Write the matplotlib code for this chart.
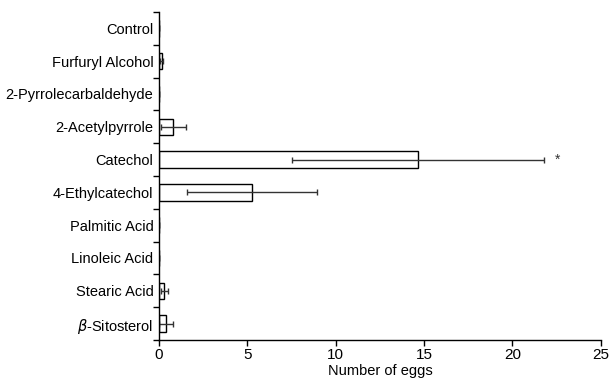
import numpy as np
import matplotlib.pyplot as plt
from matplotlib.ticker import FixedLocator

plt.rcParams["font.family"] = ["Liberation Sans", "DejaVu Sans"]

compounds = ["Control", "Furfuryl Alcohol", "2-Pyrrolecarbaldehyde", "2-Acetylpyrrole",
             "Catechol", "4-Ethylcatechol", "Palmitic Acid", "Linoleic Acid",
             "Stearic Acid", r"$\beta$-Sitosterol"]
eggs_mean = [0.0, 0.15, 0.0, 0.8, 14.65, 5.27, 0.0, 0.0, 0.3, 0.4]
eggs_sem = [0.0, 0.1, 0.0, 0.7, 7.15, 3.68, 0.0, 0.0, 0.2, 0.4]
significant = ["Catechol"]


def main():
    fig = plt.figure(figsize=(6.1, 3.81), dpi=100)
    ax = fig.add_axes([0.2607, 0.1076, 0.7243, 0.861])

    y = np.arange(len(compounds))
    ax.barh(y, eggs_mean, height=0.5, color="white", edgecolor="black", linewidth=1.0)
    ax.errorbar(eggs_mean, y, xerr=eggs_sem, fmt="none", ecolor="#333333",
                elinewidth=1.0, capsize=2.5, capthick=1.0)

    for i, name in enumerate(compounds):
        if name in significant:
            ax.text(eggs_mean[i] + eggs_sem[i] + 0.75, i, "*", ha="center", va="center",
                    fontsize=10, color="#333333")

    ax.set_ylim(len(compounds) - 0.5, -0.5)
    ax.set_yticks(y)
    ax.set_yticklabels(compounds, fontsize=10.5)
    ax.yaxis.set_minor_locator(FixedLocator(np.arange(-0.5, len(compounds), 1.0)))
    ax.tick_params(axis="y", which="major", length=0, pad=4)
    ax.tick_params(axis="y", which="minor", length=4, width=1.0, direction="out")

    ax.set_xlim(0, 25)
    ax.set_xticks([0, 5, 10, 15, 20, 25])
    ax.tick_params(axis="x", labelsize=11, length=4, width=1.0, direction="out", pad=2)
    ax.set_xlabel("Number of eggs", fontsize=10.5, labelpad=1)

    ax.spines["top"].set_visible(False)
    ax.spines["right"].set_visible(False)
    ax.spines["left"].set_linewidth(1.0)
    ax.spines["bottom"].set_linewidth(1.0)

    fig.savefig("out.png", dpi=100)


if __name__ == "__main__":
    main()
